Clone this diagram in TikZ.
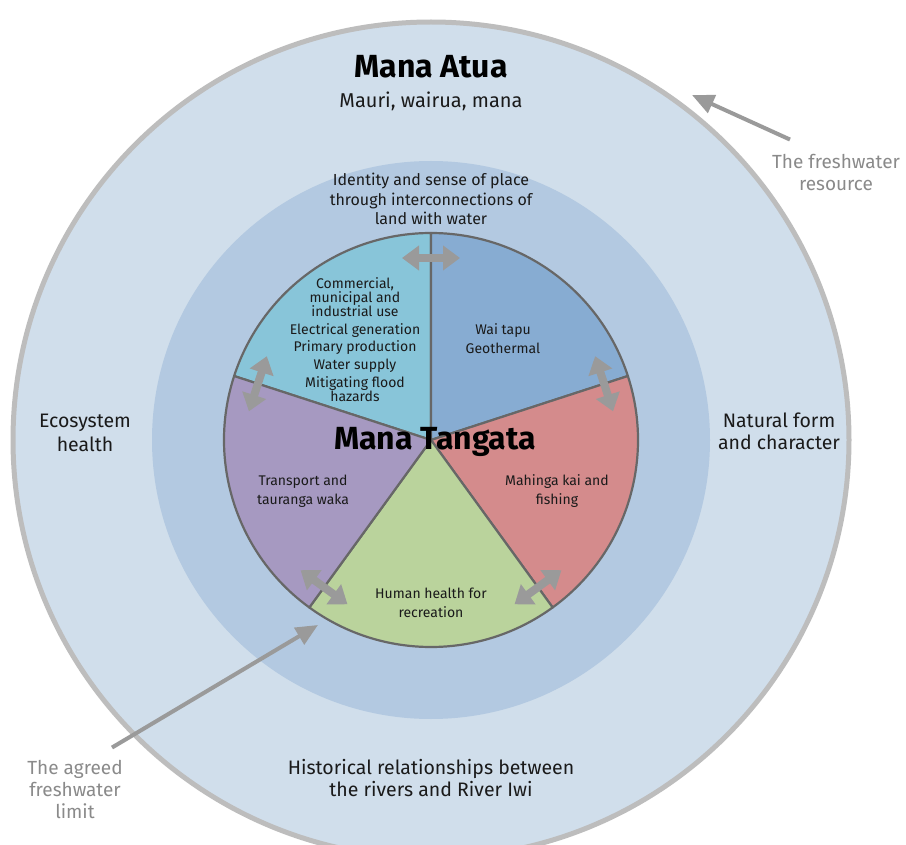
\documentclass[tikz,border=0pt]{standalone}
\usepackage{fontspec}
\setmainfont{Fira Sans}
\usetikzlibrary{calc,positioning,arrows.meta}
\definecolor{outerblue}{HTML}{D0DEEB}
\definecolor{rimgray}{HTML}{BDBDBD}
\definecolor{ringblue}{HTML}{B3C9E1}
\definecolor{cyanseg}{HTML}{88C5D9}
\definecolor{blueseg}{HTML}{87ACD2}
\definecolor{redseg}{HTML}{D48B8C}
\definecolor{greenseg}{HTML}{BAD39C}
\definecolor{purpleseg}{HTML}{A699C1}
\definecolor{piegray}{HTML}{676767}
\definecolor{arrgray}{HTML}{9A9A9A}
\definecolor{notegray}{HTML}{8A8A8A}
\definecolor{inkblack}{HTML}{1A1A1A}

\begin{document}
\begin{tikzpicture}[x=1pt, y=1pt,
    sector/.style={draw=piegray, line width=2.2pt, line join=round},
    swap/.style={draw=arrgray, line width=8pt, {Triangle[width=24pt,length=17pt]}-{Triangle[width=24pt,length=17pt]}},
    leader/.style={draw=arrgray, line width=4pt, -{Triangle[width=19pt,length=22pt]}},
    heading/.style={text=black, font=\bfseries\fontsize{32}{34}\selectfont, inner sep=0pt},
    ringtext/.style={text=inkblack, align=center, font=\fontsize{19.5}{23}\selectfont, inner sep=0pt},
    segtext/.style={text=inkblack, align=center, font=\fontsize{14}{14}\selectfont, inner sep=0pt},
    note/.style={text=notegray, align=center, font=\fontsize{19}{22}\selectfont, inner sep=0pt}]

    \clip (0,0) rectangle (906,-845);
    \fill[white] (0,0) rectangle (906,-845);
    \coordinate (c) at (431,-440);

    % rings
    \filldraw[fill=outerblue, draw=rimgray, line width=5pt] (c) circle[radius=418];
    \fill[ringblue] (c) circle[radius=279];

    % pie of uses
    \foreach \a/\col in {90/cyanseg, 18/blueseg, -54/redseg, -126/greenseg, 162/purpleseg}{
        \filldraw[sector, fill=\col] (c) -- ($(c)+(\a:207)$) arc[start angle=\a, delta angle=72, radius=207] -- cycle;
    }

    % exchange arrows across the spokes
    \foreach \a in {90, 18, -54, -126, 162}{
        \draw[swap] ($(c)+(\a:182)+(\a+90:29)$) -- ($(c)+(\a:182)+(\a-90:29)$);
    }

    \node[heading] (atua) at (431,-67) {Mana Atua};
    \node[ringtext, font=\fontsize{20}{23}\selectfont] (mauri) at (431,-101) {Mauri, wairua, mana};
    \node[ringtext, font=\fontsize{16}{19.5}\selectfont] (identity) at (431,-199) {Identity and sense of place\\through interconnections of\\land with water};
    \node[ringtext, font=\fontsize{19.5}{24}\selectfont] (eco) at (85,-433) {Ecosystem\\health};
    \node[ringtext, font=\fontsize{19.5}{22}\selectfont] (natural) at (779,-431) {Natural form\\and character};
    \node[ringtext, font=\fontsize{19.5}{22}\selectfont] (hist) at (431,-778) {Historical relationships between\\the rivers and River Iwi};

    \node[segtext] (commercial) at (355,-340) {Commercial,\\municipal and\\industrial use\\[4pt]Electrical generation\\[3pt]Primary production\\[4pt]Water supply\\[4pt]Mitigating flood\\hazards};
    \node[segtext, font=\fontsize{14}{19}\selectfont] (waitapu) at (503,-339) {Wai tapu\\Geothermal};
    \node[segtext, font=\fontsize{14}{19}\selectfont] (mahinga) at (557,-491) {Mahinga kai and\\fishing};
    \node[segtext, font=\fontsize{14}{19}\selectfont] (human) at (431,-603) {Human health for\\recreation};
    \node[segtext, font=\fontsize{14}{19}\selectfont] (transport) at (303,-491) {Transport and\\tauranga waka};

    \node[heading] (tangata) at (435,-442) {Mana Tangata};

    % pointers
    \node[note] (fwres) at (836,-172) {The freshwater\\resource};
    \node[note] (limit) at (75,-789) {The agreed\\freshwater\\limit};
    \coordinate (fwtip) at (692,-95);
    \coordinate (limittip) at (318,-625);
    \draw[leader] ($(fwres.north)+(-46,14)$) -- (fwtip);
    \draw[leader] ($(limit.north)+(37,12)$) -- (limittip);
\end{tikzpicture}
\end{document}
